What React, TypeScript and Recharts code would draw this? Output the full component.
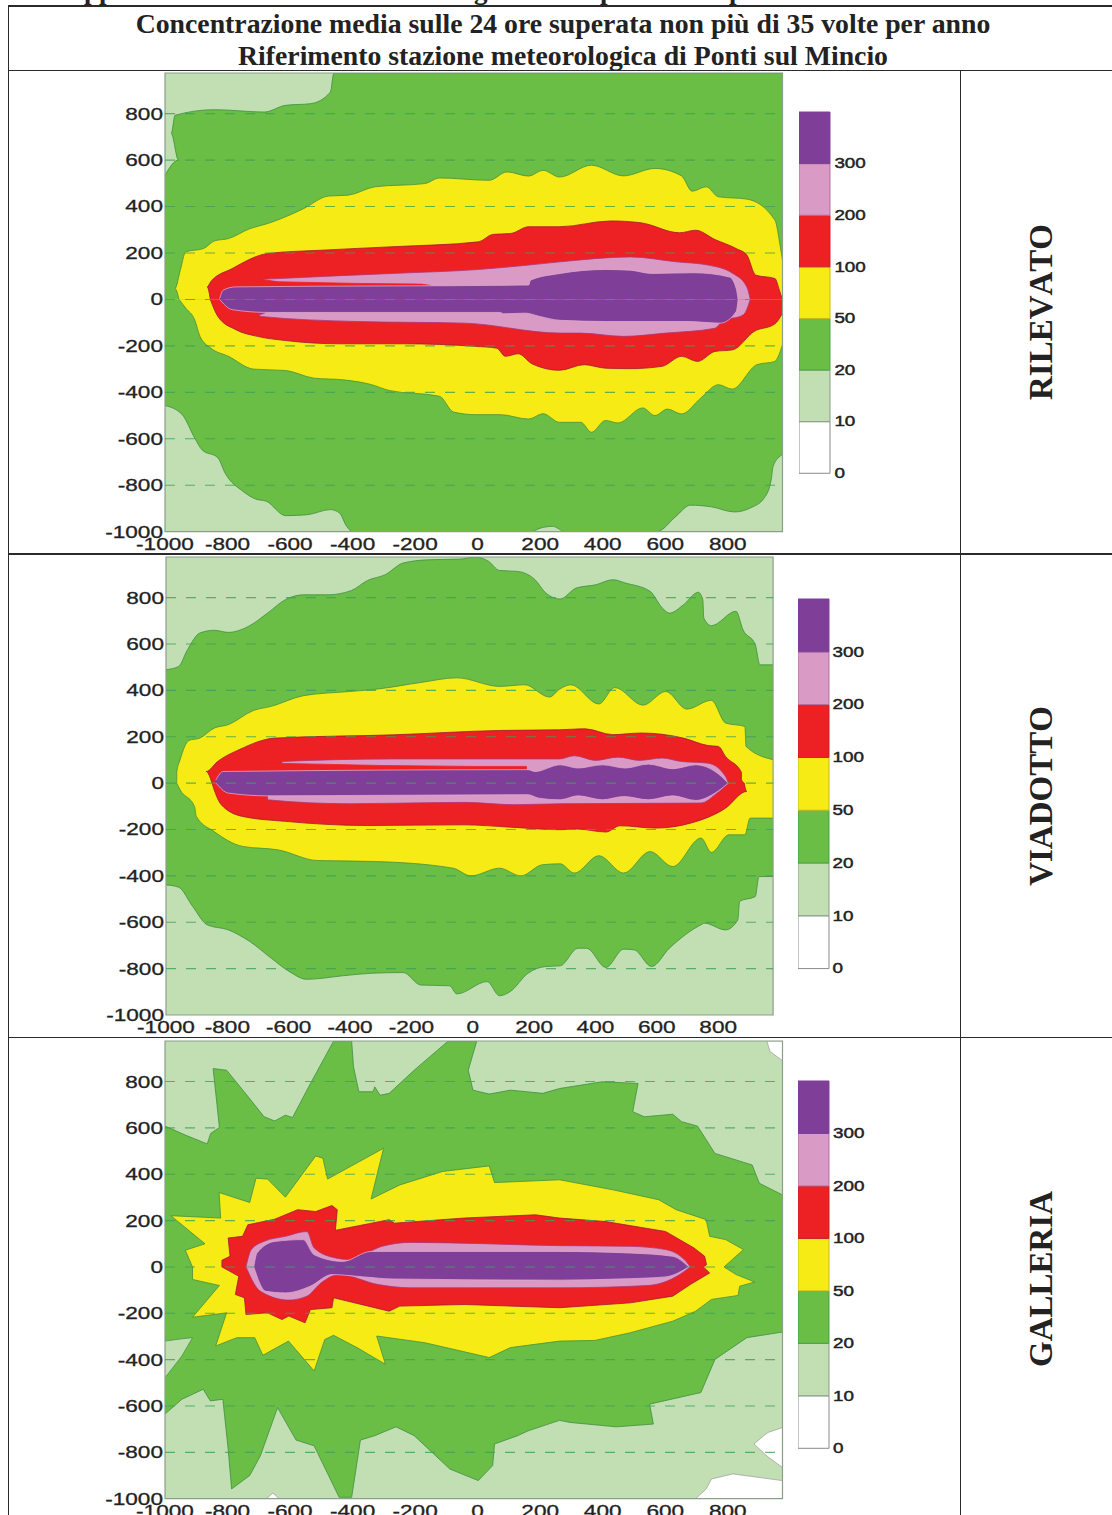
import React from "react";
import { ComposedChart, BarChart, Bar, Area, XAxis, YAxis, ReferenceLine, ReferenceArea } from "recharts";

type Pt = [number, number];
type Bd = [number, number, number];

const axisTicks = [-1000, -800, -600, -400, -200, 0, 200, 400, 600, 800];
const scaleLabels = ["0", "10", "20", "50", "100", "200", "300"];
const scaleBands = ["b0", "b1", "b2", "b3", "b4", "b5", "b6"];
const headerLines = [
  "Concentrazione media sulle 24 ore superata non più di 35 volte per anno",
  "Riferimento stazione meteorologica di Ponti sul Mincio",
];
const clippedAboveTable: [string, number][] = [["pp", 84], ["g", 474], ["p", 600], ["p", 729]];

// ---------- RILEVATO ----------
const ril20Up: Pt[] = [[-1000,535],[-957,600],[-980,714],[-968,793],[-842,817],[-682,807],[-614,836],[-534,843],[-471,893],[-460,975],[975,975]];
const ril20Lo: Pt[] = [[-1000,-457],[-945,-496],[-905,-597],[-882,-647],[-831,-682],[-808,-747],[-751,-826],[-711,-859],[-676,-869],[-614,-931],[-545,-927],[-471,-905],[-442,-919],[-419,-977],[-400,-1000],[170,-1000],[200,-985],[240,-977],[262,-990],[275,-1000],[573,-1000],[635,-933],[680,-886],[748,-893],[821,-915],[872,-898],[917,-854],[939,-776],[945,-718],[975,-668]];
const ril50Up: Pt[] = [[-955,0],[-968,47],[-951,126],[-934,205],[-877,219],[-842,252],[-797,262],[-728,305],[-671,327],[-614,356],[-557,391],[-477,445],[-414,449],[-328,485],[-168,499],[-123,523],[37,513],[94,549],[163,531],[209,556],[262,527],[364,578],[466,532],[567,564],[652,532],[686,466],[731,485],[770,442],[861,432],[951,341],[968,227],[975,169]];
const ril50Lo: Pt[] = [[-955,0],[-934,-37],[-905,-88],[-888,-159],[-854,-209],[-797,-245],[-717,-300],[-614,-306],[-523,-339],[-431,-346],[-339,-367],[-283,-392],[-122,-417],[-77,-485],[-8,-496],[72,-496],[163,-515],[209,-492],[262,-529],[330,-529],[364,-572],[409,-521],[449,-532],[528,-467],[567,-500],[607,-472],[652,-493],[714,-424],[770,-367],[814,-386],[893,-281],[950,-267],[975,-195]];
const ril100Up: Pt[] = [[-855,0],[-865,54],[-854,76],[-785,133],[-671,198],[-500,212],[-271,227],[3,248],[48,280],[106,284],[163,313],[262,313],[426,338],[522,330],[646,287],[697,298],[759,258],[827,219],[861,191],[889,105],[951,90],[965,40],[975,0]];
const ril100Lo: Pt[] = [[-855,0],[-831,-73],[-774,-130],[-705,-159],[-614,-177],[-442,-191],[-237,-191],[-8,-202],[61,-210],[89,-245],[129,-234],[175,-278],[262,-305],[341,-281],[409,-296],[488,-298],[590,-288],[652,-245],[703,-267],[759,-224],[816,-217],[884,-138],[951,-105],[975,-59]];
const ril200Up: Pt[] = [[-690,0],[-690,86],[-637,90],[-271,112],[3,129],[163,148],[264,162],[488,183],[635,162],[737,148],[816,112],[861,54],[872,0]];
const ril200Lo: Pt[] = [[-671,0],[-671,-50],[-700,-65],[-694,-73],[-385,-95],[-42,-102],[264,-145],[330,-145],[466,-159],[601,-145],[759,-124],[782,-95],[850,-66],[872,0]];
const rilWedge: Pt[] = [[-694,0],[-694,86],[-637,76],[-385,69],[-180,66],[-150,60],[-150,0]];
const ril300Up: Pt[] = [[-825,4],[-814,40],[-774,54],[163,62],[169,83],[264,112],[409,129],[488,126],[556,112],[692,115],[805,97],[827,47],[833,0]];
const ril300Lo: Pt[] = [[-825,0],[-785,-44],[-671,-56],[72,-56],[83,-62],[152,-59],[198,-73],[264,-90],[409,-95],[669,-95],[776,-102],[827,-52],[833,0]];

// ---------- VIADOTTO ----------
const via20Up: Pt[] = [[-1000,489],[-959,503],[-930,575],[-890,647],[-843,659],[-797,650],[-727,679],[-669,733],[-611,791],[-552,812],[-471,812],[-395,831],[-343,874],[-285,899],[-227,949],[-145,963],[-41,966],[6,975],[52,956],[87,917],[145,913],[203,877],[238,820],[285,794],[337,841],[400,855],[457,877],[497,863],[578,827],[618,755],[641,733],[687,769],[735,823],[750,791],[753,712],[778,679],[858,741],[881,661],[921,597],[936,510],[979,510]];
const via20Lo: Pt[] = [[-1000,-439],[-959,-449],[-913,-532],[-866,-611],[-797,-633],[-727,-683],[-657,-755],[-599,-812],[-541,-846],[-424,-831],[-331,-820],[-227,-817],[-169,-871],[-76,-874],[-52,-909],[47,-856],[87,-917],[122,-899],[180,-820],[238,-791],[285,-788],[343,-712],[371,-712],[434,-795],[492,-716],[526,-719],[583,-791],[641,-712],[744,-611],[755,-604],[824,-633],[864,-590],[870,-510],[921,-489],[933,-403],[979,-403]];
const via50Up: Pt[] = [[-965,0],[-965,46],[-954,101],[-925,184],[-890,194],[-843,237],[-797,252],[-715,313],[-657,331],[-552,377],[-401,395],[-308,406],[-169,434],[-52,454],[87,417],[169,424],[250,371],[283,405],[320,424],[411,341],[463,412],[555,336],[629,395],[698,319],[778,357],[824,259],[887,244],[891,158],[979,101]];
const via50Lo: Pt[] = [[-965,0],[-954,-29],[-907,-101],[-901,-144],[-843,-209],[-750,-273],[-634,-288],[-506,-334],[-320,-338],[-64,-367],[-6,-400],[87,-367],[157,-400],[227,-352],[285,-348],[331,-388],[411,-313],[492,-388],[578,-295],[652,-360],[744,-237],[778,-299],[835,-223],[887,-223],[904,-151],[979,-151]];
const via100Up: Pt[] = [[-850,0],[-869,50],[-832,93],[-762,144],[-645,194],[-262,208],[87,227],[283,230],[366,234],[457,209],[549,216],[687,194],[767,162],[801,158],[824,115],[876,46],[876,14],[885,0]];
const via100Lo: Pt[] = [[-850,0],[-843,-29],[-820,-93],[-750,-144],[-611,-165],[-343,-183],[-29,-180],[122,-190],[283,-201],[340,-198],[434,-211],[480,-184],[595,-194],[709,-173],[824,-108],[893,-36],[885,0]];
const via200Up: Pt[] = [[-622,0],[-622,93],[-262,104],[283,104],[331,118],[400,98],[474,112],[543,98],[618,108],[675,94],[767,86],[824,29],[833,0]];
const via200Lo: Pt[] = [[-669,0],[-669,-72],[-401,-89],[-29,-83],[134,-93],[285,-89],[744,-86],[790,-50],[833,0]];
const viaWedge: Pt[] = [[-686,0],[-686,89],[-620,85],[-300,76],[0,72],[175,72],[175,0]];
const via300Up: Pt[] = [[-837,14],[-814,50],[180,58],[203,50],[285,79],[343,65],[423,79],[497,65],[572,82],[652,62],[727,79],[790,50],[833,0]];
const via300Lo: Pt[] = [[-837,0],[-797,-43],[-669,-55],[180,-50],[215,-65],[285,-72],[343,-55],[423,-72],[492,-58],[572,-72],[652,-55],[727,-75],[790,-43],[833,0]];

// ---------- GALLERIA ----------
const gal20Up: Pt[] = [[-1000,608],[-935,569],[-865,531],[-854,576],[-826,602],[-846,856],[-803,849],[-751,763],[-683,648],[-649,630],[-615,655],[-592,645],[-535,791],[-461,974],[-403,974],[-397,863],[-380,756],[-335,756],[-329,777],[-312,741],[-283,749],[-203,849],[-95,974],[-3,974],[-30,849],[-15,763],[37,746],[105,763],[208,749],[262,770],[398,799],[513,792],[496,670],[533,648],[624,659],[652,627],[703,608],[759,490],[878,440],[901,361],[975,311]];
const gal20Lo: Pt[] = [[-1000,-635],[-946,-571],[-878,-528],[-855,-578],[-815,-571],[-798,-786],[-787,-958],[-729,-900],[-695,-815],[-640,-607],[-581,-747],[-523,-772],[-443,-994],[-403,-994],[-375,-747],[-329,-728],[-261,-690],[-203,-728],[-89,-872],[2,-922],[48,-857],[54,-764],[128,-728],[162,-707],[262,-662],[296,-671],[443,-690],[562,-678],[550,-592],[714,-542],[759,-399],[861,-305],[975,-281]];
const gal50Up: Pt[] = [[-912,0],[-935,72],[-872,100],[-981,221],[-822,211],[-827,321],[-729,278],[-709,383],[-672,379],[-615,301],[-518,479],[-495,469],[-480,379],[-301,512],[-341,293],[-249,354],[-112,412],[37,436],[54,364],[262,376],[432,333],[579,290],[635,247],[731,204],[742,132],[793,118],[850,75],[788,0]];
const gal50Lo: Pt[] = [[-912,0],[-912,-54],[-826,-80],[-912,-217],[-803,-198],[-838,-341],[-770,-305],[-713,-305],[-687,-381],[-605,-320],[-523,-449],[-489,-313],[-461,-295],[-386,-348],[-295,-420],[-323,-298],[-169,-327],[37,-391],[105,-348],[262,-320],[375,-317],[488,-284],[624,-234],[697,-191],[748,-140],[833,-123],[838,-83],[886,-65],[827,-33],[788,0]];
const gal100Up: Pt[] = [[-818,0],[-818,29],[-792,46],[-798,125],[-752,132],[-735,182],[-649,206],[-576,247],[-518,239],[-466,265],[-449,247],[-455,158],[-283,204],[-266,189],[-43,211],[185,225],[262,211],[409,196],[601,153],[692,82],[726,46],[732,10],[722,0]];
const gal100Lo: Pt[] = [[-818,0],[-764,-40],[-775,-119],[-746,-133],[-741,-205],[-672,-198],[-626,-227],[-604,-212],[-552,-241],[-535,-184],[-466,-176],[-461,-133],[-283,-191],[-249,-169],[-43,-162],[262,-176],[488,-155],[624,-126],[680,-76],[742,-26],[722,0]];
const gal200Up: Pt[] = [[-741,0],[-724,75],[-684,110],[-615,132],[-546,153],[-523,82],[-455,39],[-409,32],[-306,89],[-215,106],[263,92],[488,89],[601,75],[675,10],[680,0]];
const gal200Lo: Pt[] = [[-741,0],[-695,-105],[-604,-143],[-546,-126],[-501,-69],[-444,-33],[-318,-76],[-215,-90],[263,-90],[545,-80],[646,-33],[680,0]];
const gal300Up: Pt[] = [[-716,0],[-706,60],[-649,110],[-558,118],[-523,53],[-432,24],[-341,67],[263,67],[488,60],[624,46],[675,0]];
const gal300Lo: Pt[] = [[-716,0],[-678,-105],[-615,-112],[-535,-83],[-466,-33],[-364,-43],[-272,-52],[263,-57],[449,-52],[601,-43],[675,0]];
const galPatchLeft: Bd[] = [[-1000,-478,-320],[-946,-384,-310],[-912,-305,-305]];
const galWhiteTop: Bd[] = [[925,975,975],[935,930,975],[975,890,975]];
const galWhiteRight: Bd[] = [[884,-764,-764],[918,-807,-725],[929,-820,-714],[975,-865,-693]];
const galWhiteBottom: Bd[] = [[697,-1000,-1000],[731,-1000,-958],[748,-1000,-915],[816,-1000,-893],[975,-1000,-922]];
const galWhiteNick: Bd[] = [[-675,-1000,-1000],[-655,-1000,-975],[-635,-1000,-1000]];

const COL = { light: "#c1dfb3", green: "#6abd45", yellow: "#f6eb14", red: "#ed2024", pink: "#da9ac6", purple: "#7f3f98", white: "#ffffff" };
const EDGE = { light: "#7fa07f", green: "#3f8f3f", yellow: "#4a8f3a", red: "#a01a30", pink: "#a8387a", purple: "#e0a8d0", white: "#9a9a9a" };
type Lvl = keyof typeof COL;

type Panel = {
  name: string; left: number; right: number; top: number; bottom: number; xMax: number;
  barLeft: number; barRight: number; barTop: number; barBottom: number; labelY: number;
  whites: Bd[][]; patches: Bd[][]; layers: [Pt[], Lvl][]; smooth: Lvl[]; sharp: Pt[][];
};

const panels: Panel[] = [
  { name: "RILEVATO", left: 165, right: 782.5, top: 73, bottom: 531.7, xMax: 975,
    barLeft: 799.4, barRight: 830.8, barTop: 112, barBottom: 473.3, labelY: 312,
    whites: [], patches: [], smooth: ["green", "yellow", "red", "pink", "purple"], sharp: [rilWedge],
    layers: [[ril20Up,"green"],[ril20Lo,"green"],[ril50Up,"yellow"],[ril50Lo,"yellow"],[ril100Up,"red"],[ril100Lo,"red"],[ril200Up,"pink"],[ril200Lo,"pink"],[rilWedge,"red"],[ril300Up,"purple"],[ril300Lo,"purple"]] },
  { name: "VIADOTTO", left: 165.9, right: 773, top: 557.3, bottom: 1015.3, xMax: 979,
    barLeft: 798.4, barRight: 829, barTop: 598.7, barBottom: 968.3, labelY: 795.5,
    whites: [], patches: [], smooth: ["green", "yellow", "red", "pink", "purple"], sharp: [viaWedge],
    layers: [[via20Up,"green"],[via20Lo,"green"],[via50Up,"yellow"],[via50Lo,"yellow"],[via100Up,"red"],[via100Lo,"red"],[via200Up,"pink"],[via200Lo,"pink"],[viaWedge,"red"],[via300Up,"purple"],[via300Lo,"purple"]] },
  { name: "GALLERIA", left: 165, right: 782.5, top: 1041, bottom: 1498.7, xMax: 975,
    barLeft: 798, barRight: 829, barTop: 1080.7, barBottom: 1448, labelY: 1279,
    whites: [galWhiteTop, galWhiteRight, galWhiteBottom, galWhiteNick], patches: [galPatchLeft], smooth: ["pink", "purple"], sharp: [],
    layers: [[gal20Up,"green"],[gal20Lo,"green"],[gal50Up,"yellow"],[gal50Lo,"yellow"],[gal100Up,"red"],[gal100Lo,"red"],[gal200Up,"pink"],[gal200Lo,"pink"],[gal300Up,"purple"],[gal300Lo,"purple"]] },
];

const ptRows = (pts: Pt[]) => pts.map(([x, y]) => ({ x, y }));
const bdRows = (pts: Bd[]) => pts.map(([x, lo, hi]) => ({ x, band: [lo, hi] }));

const SANS = "'Liberation Sans', Arial, sans-serif";
const SERIF = "'Liberation Serif', 'Times New Roman', serif";

const XTick = ({ x, y, payload }: any) => (
  <text transform={`translate(${x},${y + 12.5}) scale(1.33,1)`} textAnchor="middle" dominantBaseline="central"
    fontFamily={SANS} fontSize={17} fill="#222" stroke="#222" strokeWidth={0.3}>{payload.value}</text>
);
const YTick = ({ x, y, payload }: any) => (
  <text transform={`translate(${x - 2},${y}) scale(1.33,1)`} textAnchor="end" dominantBaseline="central"
    fontFamily={SANS} fontSize={17} fill="#222" stroke="#222" strokeWidth={0.3}>{payload.value}</text>
);
const BarTick = ({ x, y, payload }: any) => (
  <text transform={`translate(${x + 4},${y}) scale(1.3,1)`} textAnchor="start" dominantBaseline="central"
    fontFamily={SANS} fontSize={14.5} fill="#222" stroke="#222" strokeWidth={0.45}>{scaleLabels[payload.value]}</text>
);

function Contour({ p }: { p: Panel }) {
  const pad = 70, topPad = 5, botPad = 26;
  const w = p.right - p.left + pad + 8;
  const h = p.bottom - p.top + topPad + botPad;
  const xDomain: [number, number] = [-1000, p.xMax];
  const yDomain: [number, number] = [-1000, 975];
  return (
    <div style={{ position: "absolute", left: p.left - pad, top: p.top - topPad }}>
      <ComposedChart width={w} height={h} data={ptRows(ril20Up)} margin={{ top: topPad - 1, right: 8, bottom: 0, left: 0 }}>
        <XAxis dataKey="x" type="number" domain={xDomain} ticks={axisTicks} height={botPad} tickSize={0} tickMargin={0}
          axisLine={false} tickLine={false} tick={<XTick />} interval={0} allowDataOverflow />
        <XAxis xAxisId="t" orientation="top" dataKey="x" type="number" domain={xDomain} ticks={axisTicks} height={1}
          tickSize={3} tick={false} stroke="#999" axisLine={false} interval={0} />
        <YAxis type="number" domain={yDomain} ticks={axisTicks} width={pad} tickSize={0} tickMargin={0}
          axisLine={false} tickLine={false} tick={<YTick />} interval={0} allowDataOverflow />
        <Area data={bdRows([[-1000, -1000, 975], [p.xMax, -1000, 975]])} dataKey="band" fill={COL.light} fillOpacity={1} stroke="none" isAnimationActive={false} dot={false} activeDot={false} />
        {p.whites.map((w2, i) => (
          <Area key={"w" + i} data={bdRows(w2)} dataKey="band" fill={COL.white} fillOpacity={1} stroke={EDGE.white} strokeWidth={0.7} isAnimationActive={false} dot={false} activeDot={false} />
        ))}
        {p.layers.map(([pts, lvl], i) => (
          <React.Fragment key={"l" + i}>
            <Area data={ptRows(pts)} dataKey="y" baseValue={0} type={p.smooth.includes(lvl) && !p.sharp.includes(pts) ? "monotone" : "linear"}
              fill={COL[lvl]} fillOpacity={1} stroke={p.sharp.includes(pts) ? COL[lvl] : EDGE[lvl]} strokeWidth={0.8} isAnimationActive={false} dot={false} activeDot={false} />
            {i === 1 && p.patches.map((b, j) => (
              <Area key={"p" + j} data={bdRows(b)} dataKey="band" fill={COL.light} fillOpacity={1} stroke={EDGE.green} strokeWidth={0.7} isAnimationActive={false} dot={false} activeDot={false} />
            ))}
          </React.Fragment>
        ))}
        {axisTicks.slice(1).map((t) => (
          <ReferenceLine key={t} y={t} stroke="#3fa055" strokeOpacity={0.8} strokeWidth={1.1} strokeDasharray="10 10" />
        ))}
        <ReferenceArea x1={-1000} x2={p.xMax} y1={-1000} y2={975} fill="none" stroke="#8a9f8a" strokeWidth={1.2} />
      </ComposedChart>
    </div>
  );
}

function ColourBar({ p }: { p: Panel }) {
  const w = p.barRight - p.barLeft, h = p.barBottom - p.barTop;
  const row: any = { name: "scala" };
  scaleBands.forEach((b) => (row[b] = 1));
  const fills = [COL.white, COL.light, COL.green, COL.yellow, COL.red, COL.pink, COL.purple];
  const edges = ["#8a8a8a", "#8a9a8a", "#4a9f4a", "#c8b820", "#c8202a", "#b070a0", "#7f3f98"];
  return (
    <div style={{ position: "absolute", left: p.barLeft, top: p.barTop - 8 }}>
      <BarChart width={w + 44} height={h + 16} data={[row]} margin={{ top: 8, right: 0, bottom: 8, left: 0 }} barCategoryGap={0}>
        <XAxis dataKey="name" hide />
        <YAxis orientation="right" type="number" domain={[0, 7]} ticks={[0, 1, 2, 3, 4, 5, 6]} width={44} tickSize={0} tickMargin={0}
          axisLine={false} tickLine={false} tick={<BarTick />} interval={0} />
        {scaleBands.map((b, i) => (
          <Bar key={b} dataKey={b} stackId="s" fill={fills[i]} stroke={edges[i]} strokeWidth={1} isAnimationActive={false} />
        ))}
      </BarChart>
    </div>
  );
}

const rule = (l: number, t: number, w: number, h: number, k: string) => (
  <div key={k} style={{ position: "absolute", left: l, top: t, width: w, height: h, background: "#2a2a2a" }} />
);

export default function App() {
  return (
    <div style={{ position: "absolute", left: 0, top: 0, width: 1112, height: 1515, overflow: "hidden", background: "#fff" }}>
      <div style={{ position: "absolute", left: 0, top: 0, width: 1112, height: 5, overflow: "hidden" }}>
        {clippedAboveTable.map(([s, x], i) => (
          <span key={i} style={{ position: "absolute", left: x, top: -25, fontFamily: SERIF, fontWeight: 700, fontSize: 27, lineHeight: "30px", color: "#222" }}>{s}</span>
        ))}
      </div>
      {panels.map((p) => <Contour key={p.name} p={p} />)}
      {panels.map((p) => <ColourBar key={p.name} p={p} />)}
      {rule(8, 5, 1104, 1.5, "r1")}
      {rule(8, 69.5, 1104, 1.5, "r2")}
      {rule(8, 553, 1104, 1.5, "r3")}
      {rule(8, 1036.5, 1104, 1.5, "r4")}
      {rule(7.5, 5, 1.5, 1510, "r5")}
      {rule(959.5, 70, 1.5, 1445, "r6")}
      {headerLines.map((t, i) => (
        <div key={i} style={{ position: "absolute", left: 0, width: 1126, textAlign: "center", top: 8.5 + i * 32, lineHeight: "30px", fontFamily: SERIF, fontWeight: 700, fontSize: 27.75, color: "#222", whiteSpace: "nowrap" }}>{t}</div>
      ))}
      {panels.map((p) => (
        <div key={p.name} style={{ position: "absolute", left: 1041, top: p.labelY, transform: "translate(-50%,-50%) rotate(-90deg)", fontFamily: SERIF, fontWeight: 700, fontSize: 33, fontKerning: "none", color: "#222", whiteSpace: "nowrap" }}>{p.name}</div>
      ))}
    </div>
  );
}
